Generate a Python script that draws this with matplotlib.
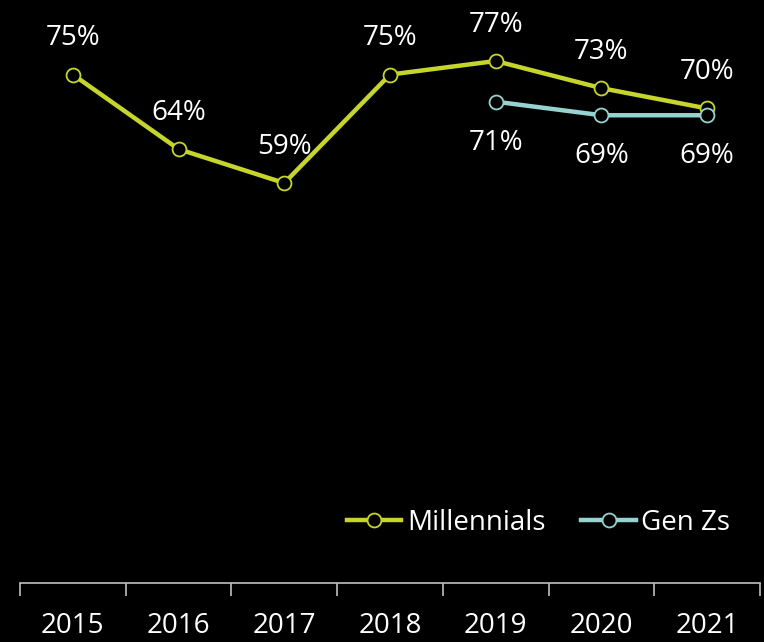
import numpy as np
import matplotlib.pyplot as plt
from matplotlib.ticker import FixedLocator

years = ["2015", "2016", "2017", "2018", "2019", "2020", "2021"]
millennials = [75, 64, 59, 75, 77, 73, 70]
genz_years = ["2019", "2020", "2021"]
genz = [71, 69, 69]

mill_color = "#C6D52B"
genz_color = "#94D3CF"
axis_color = "#BFBFBF"
fs = 20

plt.rcParams['font.family'] = ['Open Sans', 'DejaVu Sans']

fig = plt.figure(figsize=(7.64, 6.42), dpi=100, facecolor="black")
ax = fig.add_axes([20 / 764, 59 / 642, 740 / 764, 583 / 642])
ax.set_facecolor("black")

x_all = np.arange(len(years))
x_genz = np.array([years.index(y) for y in genz_years])

ax.plot(x_all, millennials, color=mill_color, lw=3.2, marker='o', ms=10,
        mfc="black", mec=mill_color, mew=1.3, label="Millennials", zorder=3)
ax.plot(x_genz, genz, color=genz_color, lw=3.2, marker='o', ms=10,
        mfc="black", mec=genz_color, mew=1.3, label="Gen Zs", zorder=4)

for x, v in zip(x_all, millennials):
    ax.annotate(f"{v}%", (x, v), xytext=(0, 26), textcoords="offset points",
                ha="center", va="center", color="white", fontsize=fs)
for x, v in zip(x_genz, genz):
    ax.annotate(f"{v}%", (x, v), xytext=(0, -29.5), textcoords="offset points",
                ha="center", va="center", color="white", fontsize=fs)

ax.set_xlim(-0.5, len(years) - 0.5)
ax.set_ylim(0, 86)

for side in ["left", "right", "top"]:
    ax.spines[side].set_visible(False)
ax.spines["bottom"].set_color(axis_color)
ax.spines["bottom"].set_linewidth(1.2)

ax.set_yticks([])
ax.set_xticks(x_all)
ax.set_xticklabels(years, color="white", fontsize=fs)
ax.tick_params(axis="x", which="major", length=0, pad=21)
ax.xaxis.set_minor_locator(FixedLocator(np.arange(-0.5, len(years), 1.0)))
ax.tick_params(axis="x", which="minor", length=9, width=1.2, color=axis_color,
               direction="out")

leg = ax.legend(loc="center left", bbox_to_anchor=(316 / 740, 60 / 583),
                ncol=2, frameon=False, fontsize=fs, labelcolor="white",
                handlelength=1.95, handletextpad=0.2, columnspacing=1.3,
                borderaxespad=0)

fig.savefig("out.png", dpi=100, facecolor="black")
